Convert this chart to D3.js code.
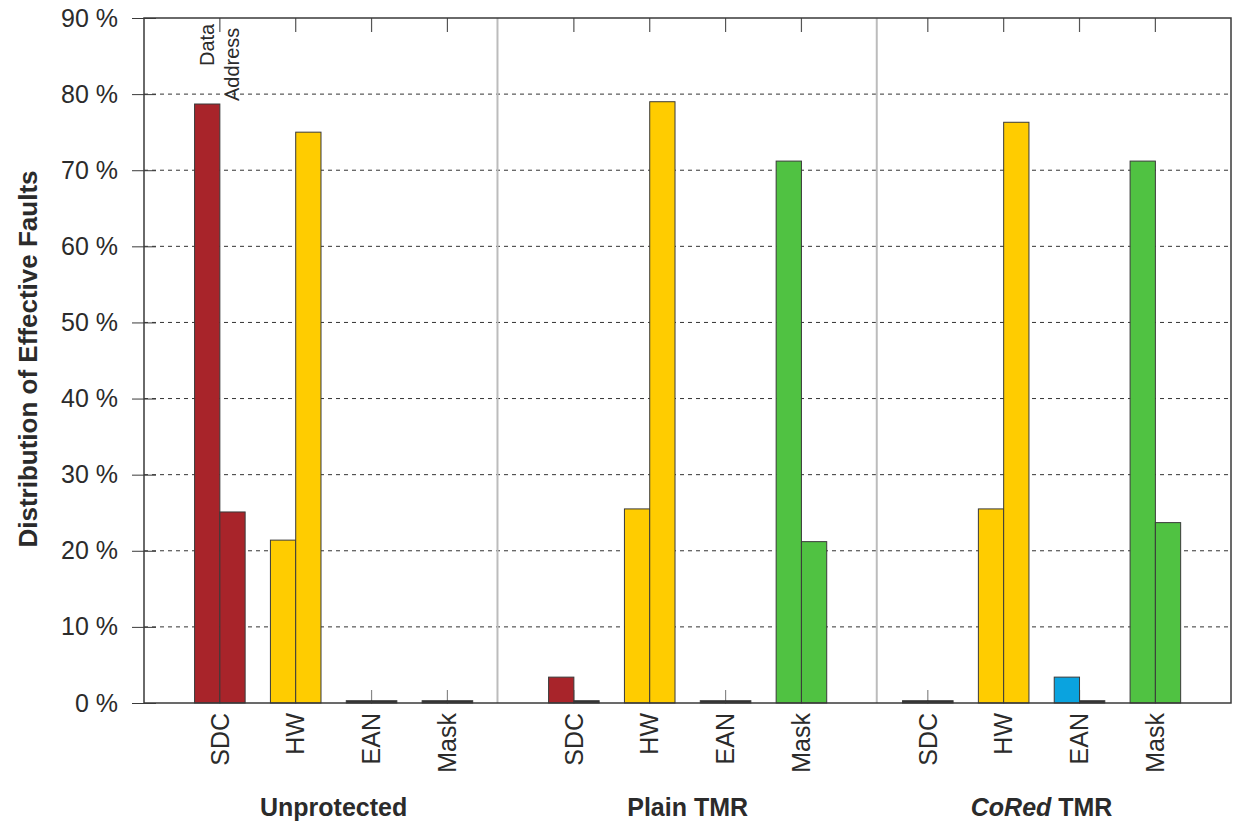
<!DOCTYPE html>
<html>
<head>
<meta charset="utf-8">
<script src="https://cdn.jsdelivr.net/npm/d3@7"></script>
<style>
body { margin: 0; background: #fff; }
svg text { font-family: "Liberation Sans", Arial, Helvetica, sans-serif; fill: #2b2b2b; }
</style>
</head>
<body>
<script>
var Red = "#a8242a", Yellow = "#ffcc00", Blue = "#0aa3df", Green = "#50c242";

var groups = ["Unprotected", "Plain TMR", "CoRed TMR"];
var categories = ["SDC", "HW", "EAN", "Mask"];
var yTicks = [0, 10, 20, 30, 40, 50, 60, 70, 80, 90];

// [Data, Address] per category, one array per group
var unprotected = [[78.7, 25.1], [21.4, 75.0], [0.3, 0.3], [0.3, 0.3]];
var plainTMR    = [[3.4, 0.3],   [25.5, 79.0], [0.3, 0.3], [71.2, 21.2]];
var coredTMR    = [[0.3, 0.3],   [25.5, 76.3], [3.4, 0.3], [71.2, 23.7]];

var catColors = [Red, Yellow, Blue, Green];

// slot positions (units of one category) for the first category of each group
var groupStart = [0, 4.667, 9.333];
var separators = [3.66, 8.66];

var width = 1235, height = 821;
var svg = d3.select("body").append("svg")
	.attr("width", width)
	.attr("height", height);

var x = d3.scaleLinear().domain([-1, 13.33]).range([144, 1231]);
var y = d3.scaleLinear().domain([0, 90]).range([703, 18]);
var slot = x(1) - x(0);
var barW = slot / 3;

var data = [];
[unprotected, plainTMR, coredTMR].forEach(function(g, gi) {
	g.forEach(function(vals, ci) {
		var c = groupStart[gi] + ci;
		data.push({g: gi, c: ci, pos: c, side: 0, v: vals[0]});
		data.push({g: gi, c: ci, pos: c, side: 1, v: vals[1]});
	});
});

// grid
svg.append("g").selectAll("line").data(yTicks.filter(d => d > 0 && d < 90)).enter()
	.append("line")
	.attr("x1", x.range()[0]).attr("x2", x.range()[1])
	.attr("y1", d => y(d)).attr("y2", d => y(d))
	.attr("stroke", "#333")
	.attr("stroke-width", 1)
	.attr("stroke-dasharray", "4,4");

// group separators
svg.append("g").selectAll("line").data(separators).enter()
	.append("line")
	.attr("x1", d => x(d)).attr("x2", d => x(d))
	.attr("y1", y(90)).attr("y2", y(0))
	.attr("stroke", "#bcbcbc")
	.attr("stroke-width", 2);

// bottom ticks (pointing up) and top ticks (pointing down)
var centers = data.filter(d => d.side == 0).map(d => d.pos);
svg.append("g").selectAll("line").data(centers).enter()
	.append("line")
	.attr("x1", d => x(d)).attr("x2", d => x(d))
	.attr("y1", y(0)).attr("y2", y(0) - 13)
	.attr("stroke", "#888").attr("stroke-width", 1.2);
svg.append("g").selectAll("line").data(centers).enter()
	.append("line")
	.attr("x1", d => x(d)).attr("x2", d => x(d))
	.attr("y1", y(90)).attr("y2", y(90) + 14)
	.attr("stroke", "#555").attr("stroke-width", 1.2);

// bars
svg.append("g").selectAll("rect").data(data).enter()
	.append("rect")
	.attr("x", d => x(d.pos) - barW + d.side * barW)
	.attr("width", barW)
	.attr("y", d => y(d.v))
	.attr("height", d => y(0) - y(d.v))
	.attr("fill", d => d.v < 1 ? "#333" : catColors[d.c])
	.attr("stroke", "#3a3a3a")
	.attr("stroke-width", 1);

// frame
svg.append("rect")
	.attr("x", x.range()[0]).attr("y", y(90))
	.attr("width", x.range()[1] - x.range()[0])
	.attr("height", y(0) - y(90))
	.attr("fill", "none")
	.attr("stroke", "#3a3a3a")
	.attr("stroke-width", 1.5);

// y axis
var yAxis = svg.append("g")
	.attr("transform", "translate(" + x.range()[0] + ",0)")
	.call(d3.axisLeft(y).tickValues(yTicks).tickSize(12).tickPadding(14)
		.tickFormat(d => d + " %"));
yAxis.select(".domain").remove();
yAxis.selectAll(".tick line").attr("stroke", "#3a3a3a").attr("x2", -12).attr("x1", 12);
yAxis.selectAll("text")
	.attr("font-size", "25px")
	.attr("font-family", "Liberation Sans, Arial, sans-serif")
	.attr("fill", "#2b2b2b");

// category labels
svg.append("g").selectAll("text").data(data.filter(d => d.side == 0)).enter()
	.append("text")
	.attr("transform", d => "translate(" + x(d.pos) + ",713) rotate(-90)")
	.attr("text-anchor", "end")
	.attr("dy", "0.35em")
	.attr("font-size", "25px")
	.text(d => categories[d.c]);

// group labels
var groupLabels = svg.append("g").selectAll("text").data(groups).enter()
	.append("text")
	.attr("x", (d, i) => x(groupStart[i] + 1.5))
	.attr("y", 816)
	.attr("text-anchor", "middle")
	.attr("font-size", "25px")
	.attr("font-weight", "bold");
groupLabels.each(function(d) {
	var t = d3.select(this);
	if (d.indexOf("CoRed") == 0) {
		t.append("tspan").attr("font-style", "italic").text("CoRed");
		t.append("tspan").text(" TMR");
	} else {
		t.text(d);
	}
});

// y axis title
svg.append("text")
	.attr("transform", "translate(37,359) rotate(-90)")
	.attr("text-anchor", "middle")
	.attr("font-size", "26px")
	.attr("font-weight", "bold")
	.text("Distribution of Effective Faults");

// Data / Address annotation over the first bar pair
var first = x(groupStart[0]);
svg.append("text")
	.attr("transform", "translate(" + (first - barW / 2) + ",66) rotate(-90)")
	.attr("text-anchor", "start")
	.attr("dy", "0.35em")
	.attr("font-size", "20px")
	.attr("fill", "#333")
	.text("Data");
svg.append("text")
	.attr("transform", "translate(" + (first + barW / 2) + ",101) rotate(-90)")
	.attr("text-anchor", "start")
	.attr("dy", "0.35em")
	.attr("font-size", "20px")
	.attr("fill", "#333")
	.text("Address");
</script>
</body>
</html>
